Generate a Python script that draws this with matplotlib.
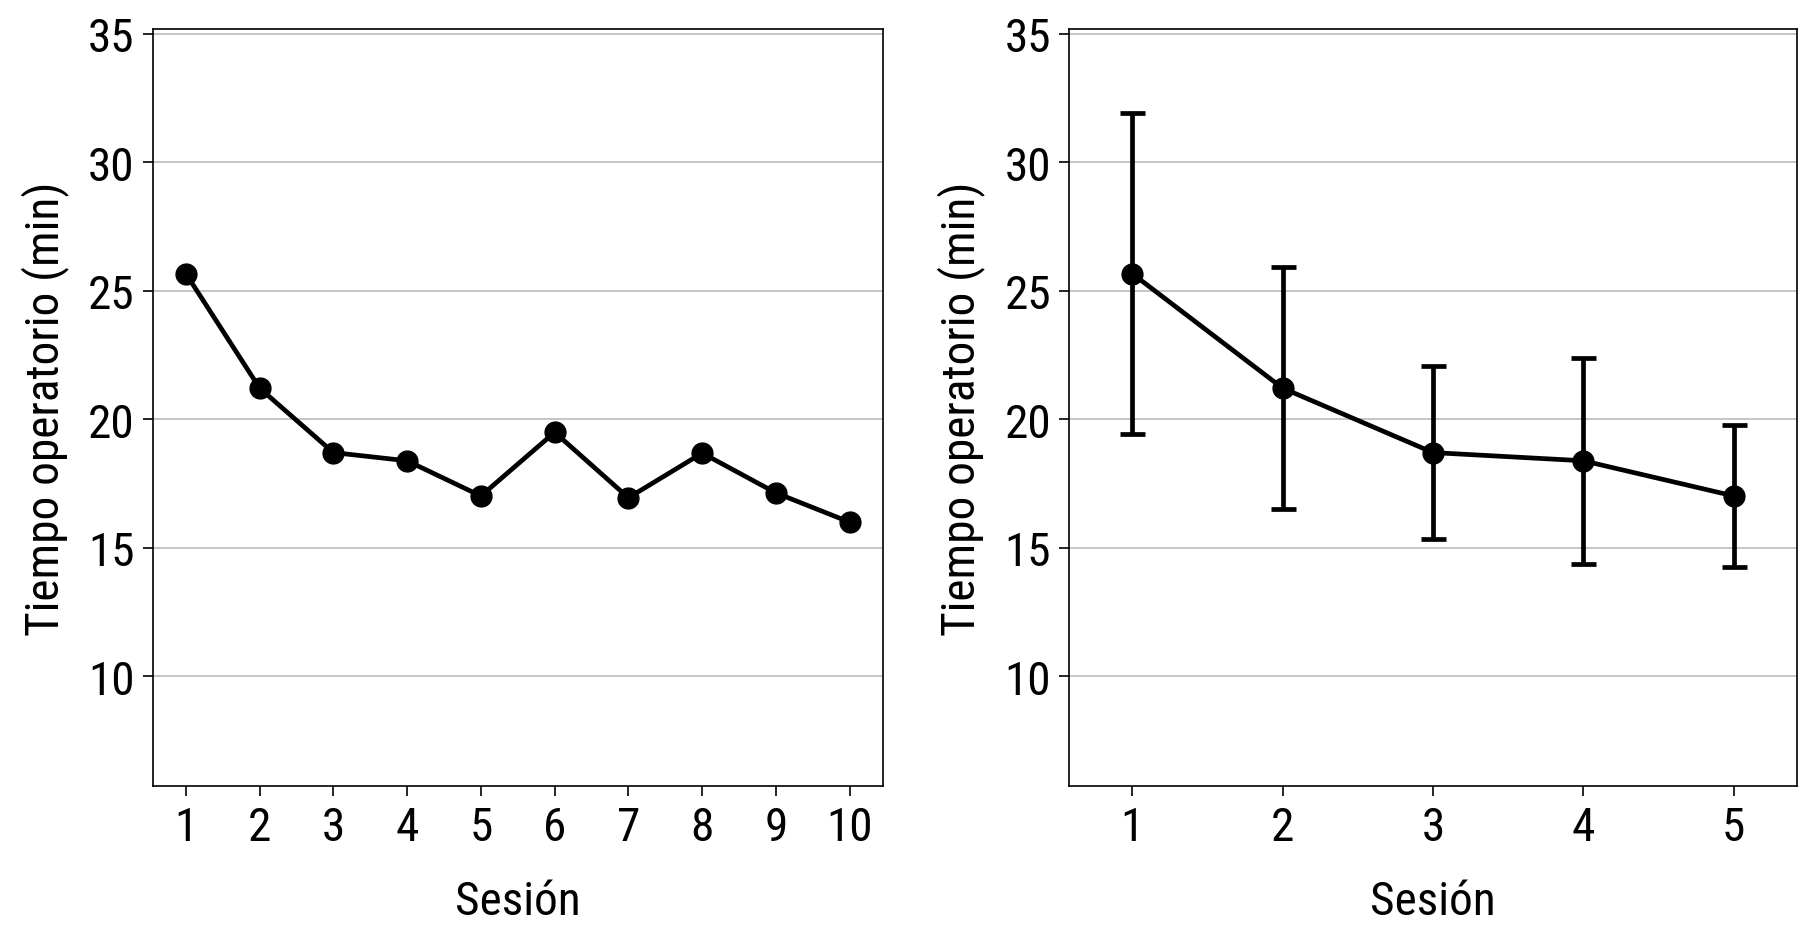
import matplotlib
matplotlib.use("Agg")
import matplotlib.pyplot as plt

# Datos
sesiones = [1, 2, 3, 4, 5, 6, 7, 8, 9, 10]
tiempo = [25.67, 21.21, 18.70, 18.38, 17.01, 19.49, 16.94, 18.68, 17.13, 15.99]

grupos = [1, 2, 3, 4, 5]
tiempo_medio = [25.67, 21.21, 18.70, 18.38, 17.01]
error = [6.25, 4.72, 3.37, 4.00, 2.77]

yticks = [10, 15, 20, 25, 30, 35]

plt.rcParams['font.family'] = ['Roboto Condensed', 'Archivo Narrow', 'Liberation Sans Narrow',
                               'Liberation Sans', 'DejaVu Sans']
plt.rcParams['font.size'] = 34

fig = plt.figure(figsize=(18, 9.37), dpi=100)
ax1 = fig.add_axes([0.0848, 0.1596, 0.4057, 0.8086])
ax2 = fig.add_axes([0.5939, 0.1596, 0.4044, 0.8086])


def style_axis(ax, xticks, xlim):
    ax.set_ylim(5.7, 35.2)
    ax.set_xlim(*xlim)
    ax.set_yticks(yticks)
    ax.set_xticks(xticks)
    ax.yaxis.grid(True, color="#c0c0c0", linewidth=1.3)
    ax.set_axisbelow(True)
    for s in ax.spines.values():
        s.set_linewidth(1.2)
        s.set_color("black")
    ax.tick_params(axis="both", direction="out", length=7, width=1.2, labelsize=34, pad=6)
    ax.set_xlabel("Sesión", fontsize=34, labelpad=22)
    ax.set_ylabel("Tiempo operatorio (min)", fontsize=34, labelpad=14)


ax1.plot(sesiones, tiempo, color="black", linewidth=3.4, marker="o", markersize=15)
style_axis(ax1, sesiones, (0.55, 10.45))

ax2.errorbar(grupos, tiempo_medio, yerr=error, color="black", linewidth=3.4,
             marker="o", markersize=15, capsize=9, capthick=3.4, elinewidth=3.4)
style_axis(ax2, grupos, (0.58, 5.42))

fig.savefig("out.png", dpi=100)
